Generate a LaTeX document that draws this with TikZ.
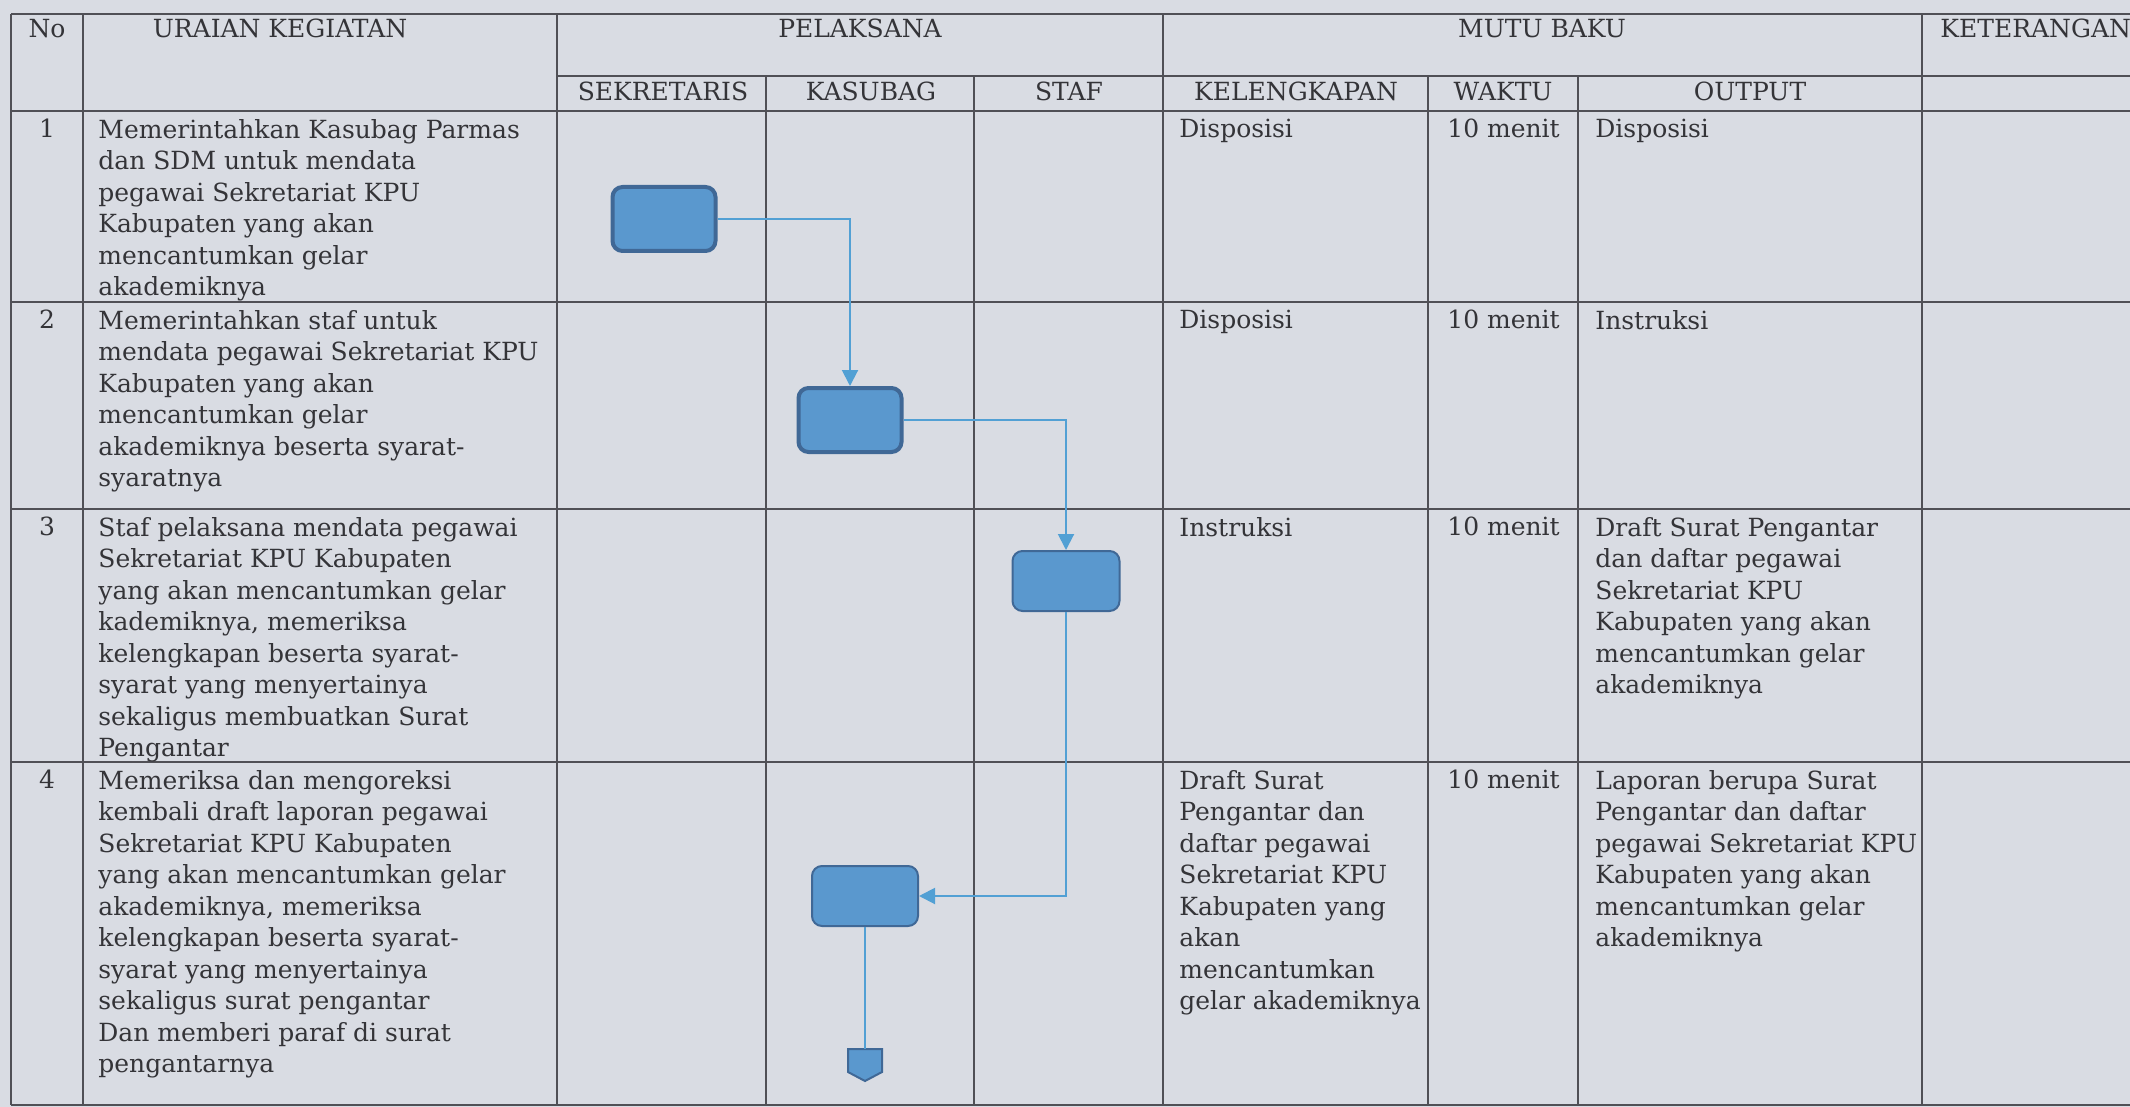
\documentclass[tikz,border=0pt]{standalone}
\usepackage{fontspec}
\setmainfont{DejaVu Serif}
\usepackage{tikz}
\usetikzlibrary{arrows.meta}
\definecolor{paper}{RGB}{217,220,227}
\definecolor{rule}{RGB}{80,80,86}
\definecolor{ink}{RGB}{52,52,56}
\definecolor{boxfill}{RGB}{90,152,206}
\definecolor{boxline}{RGB}{64,104,150}
\definecolor{flow}{RGB}{82,160,212}

\begin{document}
\begin{tikzpicture}[x=0.5pt,y=-0.5pt,
    cell/.style={anchor=north west,inner sep=0pt,align=left,text=ink,font=\fontsize{12.5}{15.75}\selectfont},
    num/.style={anchor=north,inner sep=0pt,text=ink,font=\fontsize{12.5}{15.75}\selectfont},
    head/.style={anchor=base,inner sep=0pt,text=ink,font=\fontsize{12.5}{15.75}\selectfont},
    act/.style={draw=boxline,fill=boxfill,rounded corners=5pt,minimum width=51.5pt,minimum height=32pt,inner sep=0pt},
    flowline/.style={draw=flow,line width=1pt},
    tip/.style={-{Triangle[length=8pt,width=8pt]}}]
        \fill[paper] (0,0) rectangle (2130,1107);
        \useasboundingbox (0,0) rectangle (2130,1107);

        % table rules
        \begin{scope}[draw=rule,line width=0.75pt]
        \foreach \y in {14,111,302,509,762,1105}
            \draw (11,\y)--(2130,\y);
        \draw (557,76)--(2130,76);
        \foreach \x in {11,83,557,1163,1922}
            \draw (\x,14)--(\x,1105);
        \foreach \x in {766,974,1428,1578}
            \draw (\x,76)--(\x,1105);
        \end{scope}

        % header
        \node[head] (hno) at (47,38) {No};
        \node[head] (huraian) at (280,38) {URAIAN KEGIATAN};
        \node[head] (hpelaksana) at (860,38) {PELAKSANA};
        \node[head] (hmutu) at (1542,38) {MUTU BAKU};
        \node[head,anchor=base west] (hket) at (1940,38) {KETERANGAN};
        \node[head] (hsek) at (663,101) {SEKRETARIS};
        \node[head] (hkas) at (871,101) {KASUBAG};
        \node[head] (hstaf) at (1069,101) {STAF};
        \node[head] (hleng) at (1296,101) {KELENGKAPAN};
        \node[head] (hwaktu) at (1503,101) {WAKTU};
        \node[head] (houtput) at (1750,101) {OUTPUT};

        % row 1
        \node[num] (n1) at (47,119) {1};
        \node[cell] (u1) at (98,119) {Memerintahkan Kasubag Parmas\\dan SDM untuk mendata\\pegawai Sekretariat KPU\\Kabupaten yang akan\\mencantumkan gelar\\akademiknya};
        \node[cell] (k1) at (1179,119) {Disposisi};
        \node[cell] (w1) at (1447,119) {10 menit};
        \node[cell] (o1) at (1595,119) {Disposisi};

        % row 2
        \node[num] (n2) at (47,310) {2};
        \node[cell] (u2) at (98,310) {Memerintahkan staf untuk\\mendata pegawai Sekretariat KPU\\Kabupaten yang akan\\mencantumkan gelar\\akademiknya beserta syarat-\\syaratnya};
        \node[cell] (k2) at (1179,310) {Disposisi};
        \node[cell] (w2) at (1447,310) {10 menit};
        \node[cell] (o2) at (1595,310) {Instruksi};

        % row 3
        \node[num] (n3) at (47,517) {3};
        \node[cell] (u3) at (98,517) {Staf pelaksana mendata pegawai\\Sekretariat KPU Kabupaten\\yang akan mencantumkan gelar\\kademiknya, memeriksa\\kelengkapan beserta syarat-\\syarat yang menyertainya\\sekaligus membuatkan Surat\\Pengantar};
        \node[cell] (k3) at (1179,517) {Instruksi};
        \node[cell] (w3) at (1447,517) {10 menit};
        \node[cell] (o3) at (1595,517) {Draft Surat Pengantar\\dan daftar pegawai\\Sekretariat KPU\\Kabupaten yang akan\\mencantumkan gelar\\akademiknya};

        % row 4
        \node[num] (n4) at (47,770) {4};
        \node[cell] (u4) at (98,770) {Memeriksa dan mengoreksi\\kembali draft laporan pegawai\\Sekretariat KPU Kabupaten\\yang akan mencantumkan gelar\\akademiknya, memeriksa\\kelengkapan beserta syarat-\\syarat yang menyertainya\\sekaligus surat pengantar\\Dan memberi paraf di surat\\pengantarnya};
        \node[cell] (k4) at (1179,770) {Draft Surat\\Pengantar dan\\daftar pegawai\\Sekretariat KPU\\Kabupaten yang\\akan\\mencantumkan\\gelar akademiknya};
        \node[cell] (w4) at (1447,770) {10 menit};
        \node[cell] (o4) at (1595,770) {Laporan berupa Surat\\Pengantar dan daftar\\pegawai Sekretariat KPU\\Kabupaten yang akan\\mencantumkan gelar\\akademiknya};

        % flow
        \node[act,line width=2pt] (sek1) at (664,219) {};
        \node[act,line width=2pt] (kas2) at (850,420) {};
        \node[act,line width=1pt,minimum width=53.5pt,minimum height=30pt] (staf3) at (1066,581) {};
        \node[act,line width=1pt,minimum width=53pt,minimum height=30pt] (kas4) at (865,896) {};
        \coordinate (opc) at (865,1049);
        \draw[boxline,fill=boxfill,line width=1pt] (opc)--++(17,0)--++(0,23)--++(-17,9)--++(-17,-9)--++(0,-23)--cycle;

        \draw[flowline,tip] (sek1.east) -| (kas2.north);
        \draw[flowline,tip] (kas2.east) -| (staf3.north);
        \draw[flowline,tip] (staf3.south) |- (kas4.east);
        \draw[flowline] (kas4.south)--(opc);
    \end{tikzpicture}
\end{document}
